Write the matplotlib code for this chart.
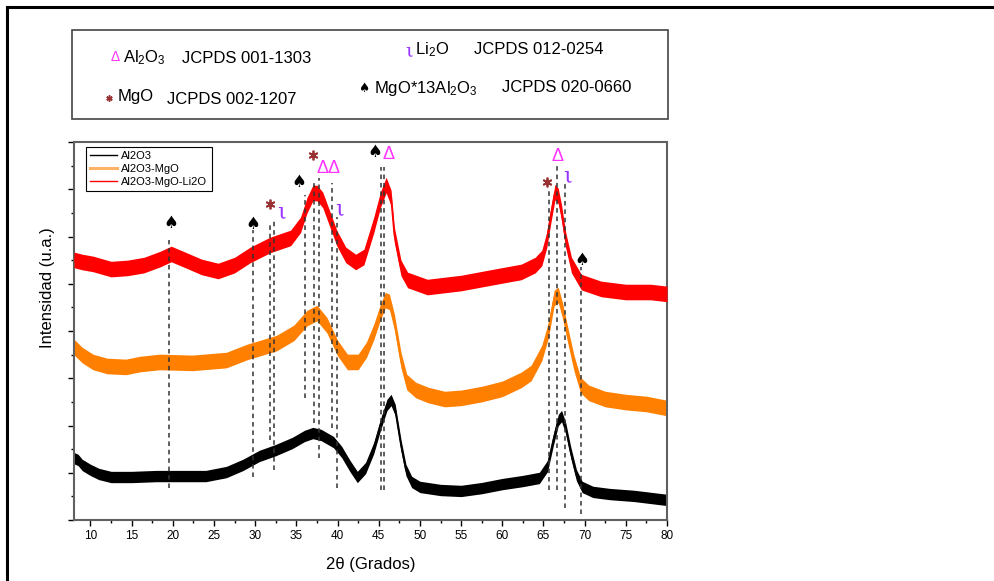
import matplotlib
matplotlib.use("Agg")
import matplotlib.pyplot as plt
from matplotlib.lines import Line2D
from matplotlib.patches import Rectangle
from matplotlib.ticker import MultipleLocator, NullFormatter

plt.rcParams['font.family'] = ['Liberation Sans', 'DejaVu Sans']
plt.rcParams['mathtext.default'] = 'regular'

# XRD patterns (2theta in degrees, stacked intensity in a.u.)
theta_al2o3 = [8.0, 8.5, 9.0, 10.0, 11.0, 12.5, 15.0, 18.0, 21.0, 24.0, 26.5, 28.5,
               30.5, 32.5, 34.5, 36.0, 37.0, 38.0, 39.5, 40.5, 41.5, 42.4, 43.4, 44.4,
               45.2, 46.0, 46.5, 47.0, 47.7, 48.3, 49.0, 50.0, 52.5, 55.0, 57.5, 60.0,
               62.5, 64.5, 65.5, 66.2, 66.8, 67.2, 67.7, 68.3, 69.0, 69.7, 71.0, 73.0,
               76.0, 80.0]
int_al2o3 = [2.62, 2.54, 2.33, 2.12, 1.95, 1.82, 1.82, 1.86, 1.86, 1.86, 2.03, 2.33,
             2.71, 2.96, 3.26, 3.56, 3.68, 3.60, 3.30, 2.88, 2.29, 1.82, 2.20, 3.05,
             4.02, 4.87, 5.08, 4.66, 3.17, 2.12, 1.61, 1.40, 1.27, 1.23, 1.35, 1.52,
             1.65, 1.78, 2.29, 3.39, 4.23, 4.40, 3.89, 2.88, 1.90, 1.40, 1.19, 1.10,
             1.02, 0.85]
noise_al2o3 = 0.24

theta_mgo = [8.0, 9.0, 10.3, 12.0, 14.3, 16.0, 18.4, 22.4, 26.5, 29.0, 31.0, 32.6,
             34.7, 36.3, 37.5, 38.7, 40.0, 41.2, 42.5, 43.5, 44.4, 45.2, 45.8, 46.3,
             46.9, 47.7, 48.4, 49.5, 51.0, 53.0, 55.0, 57.5, 60.0, 62.3, 63.5, 64.8,
             65.6, 66.3, 66.8, 67.3, 68.0, 68.7, 69.5, 70.5, 72.5, 75.0, 77.5, 80.0]
int_mgo = [7.32, 6.98, 6.69, 6.52, 6.48, 6.60, 6.69, 6.65, 6.77, 7.11, 7.32, 7.49,
           7.92, 8.55, 8.76, 8.25, 7.28, 6.69, 6.69, 7.20, 7.96, 8.80, 9.31, 9.23,
           8.38, 6.77, 5.84, 5.50, 5.29, 5.12, 5.17, 5.33, 5.55, 5.93, 6.22, 7.07,
           8.04, 9.40, 9.52, 8.89, 7.75, 6.65, 5.71, 5.38, 5.12, 4.99, 4.91, 4.74]
noise_mgo = 0.33

theta_li2o = [8.0, 9.0, 10.3, 12.5, 14.5, 16.5, 18.5, 19.8, 21.5, 23.5, 25.5, 27.5,
              29.4, 31.8, 34.3, 35.5, 36.3, 37.0, 37.5, 38.2, 39.1, 39.9, 41.0, 42.2,
              43.2, 44.4, 45.2, 45.9, 46.5, 46.9, 47.7, 48.5, 50.9, 55.0, 59.0, 62.3,
              64.0, 64.8, 65.4, 65.9, 66.4, 66.8, 67.2, 67.7, 68.4, 69.6, 72.0, 75.0,
              78.0, 80.0]
int_li2o = [11.01, 10.92, 10.84, 10.62, 10.67, 10.79, 11.05, 11.26, 11.01, 10.71, 10.54, 10.79,
            11.22, 11.64, 11.94, 12.49, 13.33, 13.84, 13.84, 13.55, 12.70, 11.94, 11.22, 10.92,
            11.13, 12.49, 13.55, 14.18, 13.63, 12.06, 10.67, 10.16, 9.86, 10.03, 10.29, 10.50,
            10.79, 11.09, 11.85, 12.91, 13.88, 13.71, 13.00, 11.85, 10.79, 10.07, 9.78, 9.65,
            9.65, 9.57]
noise_li2o = 0.33

# dashed reference lines (2theta, lower end, upper end)
ref_theta = [19.53, 29.79, 31.74, 32.28, 36.01, 37.11, 37.77, 39.35, 39.88,
             45.24, 45.65, 65.70, 66.67, 67.65, 69.51]
ref_bottom = [1.35, 1.83, 3.39, 2.12, 5.15, 4.09, 2.61, 3.88, 1.34,
              1.27, 1.27, 1.27, 1.27, 0.49, 0.25]
ref_top = [11.85, 12.28, 12.63, 12.70, 13.76, 14.32, 14.46, 14.25, 12.84,
           14.96, 14.93, 14.04, 15.10, 14.25, 10.72]

# phase symbols above the peaks
spinel_theta = [19.76, 29.76, 35.30, 44.57, 69.63]
spinel_y = [12.56, 12.53, 14.32, 15.56, 10.99]
mgo_theta = [31.77, 37.01, 65.40]
mgo_y = [13.39, 15.46, 14.31]
alumina_theta = [38.17, 39.51, 46.16, 66.74]
alumina_y = [14.87, 14.87, 15.49, 15.40]
li2o_theta = [33.15, 40.24, 67.87]
li2o_y = [13.02, 13.12, 14.55]

series_labels = ['Al2O3', 'Al2O3-MgO', 'Al2O3-MgO-Li2O']

W, H = 995, 581
fig = plt.figure(figsize=(W / 100, H / 100), dpi=100)


def fx(px):
    return px / W


def fy(py):
    return 1 - py / H


ax = fig.add_axes([fx(74), fy(520), (667 - 74) / W, (520 - 142) / H])

ax.fill_between(theta_al2o3, [v - noise_al2o3 for v in int_al2o3],
                [v + noise_al2o3 for v in int_al2o3], color='black', lw=0, zorder=2)
ax.plot(theta_al2o3, int_al2o3, color='black', lw=1.2, zorder=2)
ax.fill_between(theta_mgo, [v - noise_mgo for v in int_mgo],
                [v + noise_mgo for v in int_mgo], color='#ff8000', lw=0, zorder=2)
ax.plot(theta_mgo, int_mgo, color='#ff8000', lw=1.2, zorder=2)
ax.fill_between(theta_li2o, [v - noise_li2o for v in int_li2o],
                [v + noise_li2o for v in int_li2o], color='#ff0000', lw=0, zorder=3)
ax.plot(theta_li2o, int_li2o, color='#ff0000', lw=1.2, zorder=3)

ax.vlines(ref_theta, ref_bottom, ref_top, colors='#333333',
          linestyles=(0, (3, 2.5)), lw=1.1, zorder=4)

for t, y in zip(spinel_theta, spinel_y):
    ax.text(t, y, '\u2660', color='black', fontsize=12, ha='center', va='center',
            family=['DejaVu Sans'], zorder=5)
ax.plot(mgo_theta, mgo_y, ls='none', marker=(6, 2, 0), ms=7, mew=1.3,
        color='#993333', zorder=5)
for t, y in zip(alumina_theta, alumina_y):
    ax.text(t, y, '\u0394', color='#ff33ff', fontsize=13, ha='center', va='center', zorder=5)
for t, y in zip(li2o_theta, li2o_y):
    ax.text(t, y, '\u03b9', color='#9933ff', fontsize=16, ha='center', va='center',
            family=['DejaVu Serif'], zorder=5)

ax.set_xlim(8, 80)
ax.set_ylim(0, 16)
ax.xaxis.set_major_locator(MultipleLocator(5))
ax.xaxis.set_minor_locator(MultipleLocator(2.5))
ax.yaxis.set_major_locator(MultipleLocator(2))
ax.yaxis.set_minor_locator(MultipleLocator(1))
ax.yaxis.set_major_formatter(NullFormatter())
ax.tick_params(axis='both', which='major', direction='out', length=4, width=1,
               labelsize=8.5, pad=3)
ax.tick_params(axis='both', which='minor', direction='out', length=2.3, width=1)
for sp in ax.spines.values():
    sp.set_color('#606060')
    sp.set_linewidth(1.5)

ax.set_xlabel('2\u03b8 (Grados)', fontsize=12)
ax.xaxis.set_label_coords(0.5, (520 - 564) / 378)
ax.xaxis.label.set_va('center')
ax.set_ylabel('Intensidad (u.a.)', fontsize=12)
ax.yaxis.set_label_coords((48 - 74) / 593, (520 - 288) / 378)
ax.yaxis.label.set_va('center')

handles = [Line2D([], [], color='black', lw=1),
           Line2D([], [], color='#ffb366', lw=2.2),
           Line2D([], [], color='#ff0000', lw=1)]
leg = ax.legend(handles, series_labels, loc='upper left',
                bbox_to_anchor=((85.7 - 74) / 593, (520 - 146.7) / 378),
                borderaxespad=0, fontsize=8, handlelength=2.4, handletextpad=0.4,
                labelspacing=0.25, borderpad=0.4, fancybox=False, framealpha=1)
leg.get_frame().set_edgecolor('black')
leg.get_frame().set_linewidth(0.8)

# outer frame (left and top edges)
fig.add_artist(Line2D([fx(7), fx(7)], [fy(7), 0], color='black', lw=2.2,
                      transform=fig.transFigure))
fig.add_artist(Line2D([fx(7), 1], [fy(7), fy(7)], color='black', lw=2.2,
                      transform=fig.transFigure))

# phase key box at the top
fig.add_artist(Rectangle((fx(72), fy(119)), (668 - 72) / W, (119 - 30) / H,
                         fill=False, edgecolor='#444444', lw=1.2,
                         transform=fig.transFigure))
key_fs = 12
fig.text(fx(115), fy(57), '\u0394', color='#ff33ff', fontsize=10, ha='center', va='center')
fig.text(fx(123), fy(62.7), r'Al$_2$O$_3$', fontsize=key_fs, va='baseline')
fig.text(fx(409), fy(51.5), '\u03b9', color='#9933ff', fontsize=14, ha='center',
         va='center', family=['DejaVu Serif'])
fig.text(fx(182), fy(63), 'JCPDS 001-1303', fontsize=key_fs, va='baseline')
fig.text(fx(415), fy(54.5), r'Li$_2$O', fontsize=key_fs, va='baseline')
fig.text(fx(474), fy(54.5), 'JCPDS 012-0254', fontsize=key_fs, va='baseline')
fig.add_artist(Line2D([fx(109)], [fy(97.5)], ls='none', marker=(6, 2, 0), ms=4.5,
                      mew=1.1, color='#993333', transform=fig.transFigure))
fig.text(fx(118), fy(101.5), 'MgO', fontsize=key_fs, va='baseline')
fig.text(fx(167), fy(104), 'JCPDS 002-1207', fontsize=key_fs, va='baseline')
fig.text(fx(364), fy(88), '\u2660', fontsize=9, ha='center', va='center',
         family=['DejaVu Sans'])
fig.text(fx(374), fy(92.5), r'MgO*13Al$_2$O$_3$', fontsize=key_fs, va='baseline')
fig.text(fx(502), fy(92.5), 'JCPDS 020-0660', fontsize=key_fs, va='baseline')

fig.savefig('out.png', dpi=100)
